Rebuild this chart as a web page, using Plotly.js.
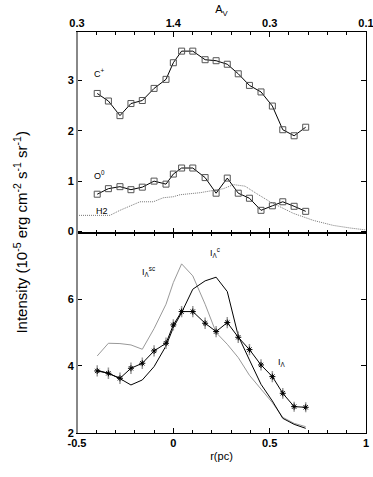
<!DOCTYPE html>
<html>
<head>
<meta charset="utf-8">
<script src="https://cdn.plot.ly/plotly-3.0.1.min.js"></script>
<style>
  html, body { margin: 0; padding: 0; background: #fff; }
  #chart { width: 373px; height: 477px; }
</style>
</head>
<body>
<div id="chart"></div>
<script>
// positions along the cut, r(pc)
const rpc = [-0.395, -0.337, -0.277, -0.220, -0.161, -0.100, -0.038, 0.000, 0.043, 0.101,
             0.165, 0.222, 0.280, 0.337, 0.395, 0.455, 0.514, 0.568, 0.627, 0.687];

// top panel
const cPlus = [2.74, 2.59, 2.30, 2.54, 2.60, 2.84, 3.02, 3.35, 3.58, 3.58,
               3.41, 3.39, 3.32, 3.13, 2.90, 2.77, 2.49, 2.02, 1.90, 2.07];
const oZero = [0.74, 0.85, 0.89, 0.83, 0.88, 1.00, 0.94, 1.14, 1.26, 1.26,
               1.07, 0.76, 1.06, 0.76, 0.66, 0.42, 0.51, 0.59, 0.50, 0.40];
const h2R = [-0.5, -0.389, -0.329, -0.277, -0.173, -0.104, -0.052, 0.0, 0.035, 0.139, 0.208,
             0.260, 0.312, 0.372, 0.433, 0.502, 0.554, 0.623, 0.727, 0.831, 0.917, 0.969, 1.0];
const h2 = [0.32, 0.32, 0.32, 0.42, 0.59, 0.59, 0.67, 0.69, 0.73, 0.77, 0.82,
            0.85, 0.93, 0.90, 0.75, 0.59, 0.49, 0.36, 0.22, 0.12, 0.07, 0.04, 0.03];

// bottom panel
const iObs = [3.85, 3.78, 3.63, 3.93, 4.08, 4.45, 4.68, 5.23, 5.63, 5.63,
              5.28, 5.03, 5.30, 4.86, 4.49, 4.03, 3.68, 3.18, 2.78, 2.76];
const iErr = [0.17, 0.17, 0.17, 0.17, 0.17, 0.17, 0.17, 0.17, 0.17, 0.17,
              0.17, 0.17, 0.17, 0.17, 0.17, 0.17, 0.17, 0.16, 0.15, 0.15];
const iC = [3.87, 3.78, 3.62, 3.43, 3.58, 3.98, 4.60, 5.15, 5.60, 6.30,
            6.55, 6.66, 6.23, 4.90, 4.18, 3.45, 2.95, 2.43, 2.25, 2.13];
const iSc = [4.30, 4.68, 4.67, 4.63, 4.50, 5.12, 5.85, 6.50, 7.06, 6.70,
             5.85, 5.00, 4.65, 4.25, 3.72, 3.30, 2.90, 2.46, 2.28, 2.18];

const avTicks = [-0.5, 0, 0.5, 1];
const avText = ["0.3", "1.4", "0.3", "0.1"];

const tickFont = { family: "Liberation Sans, Arial, sans-serif", size: 11, color: "#000", weight: "bold" };
const noteFont = { family: "Liberation Sans, Arial, sans-serif", size: 9, color: "#000" };

let data = [
  {
    x: h2R, y: h2, xaxis: "x2", yaxis: "y2", mode: "lines",
    line: { color: "#777", width: 1, dash: "1px,1px" }
  },
  {
    x: rpc, y: cPlus, xaxis: "x2", yaxis: "y2", mode: "lines+markers",
    line: { color: "#000", width: 1 },
    marker: { symbol: "square-open", size: 6, color: "#555", line: { width: 1 } }
  },
  {
    x: rpc, y: oZero, xaxis: "x2", yaxis: "y2", mode: "lines+markers",
    line: { color: "#000", width: 1 },
    marker: { symbol: "square-open", size: 6, color: "#555", line: { width: 1 } }
  },
  {
    x: rpc, y: iSc, xaxis: "x", yaxis: "y", mode: "lines",
    line: { color: "#999", width: 1 }
  },
  {
    x: rpc, y: iC, xaxis: "x", yaxis: "y", mode: "lines",
    line: { color: "#000", width: 1 }
  },
  {
    x: rpc, y: iObs, xaxis: "x", yaxis: "y", mode: "lines+markers",
    line: { color: "#000", width: 1 },
    marker: { symbol: "asterisk-open", size: 5, color: "#000", line: { width: 1 } },
    error_y: { type: "data", array: iErr, color: "#999", thickness: 1.5, width: 0 }
  }
];

const frame = {
  showline: true, linecolor: "#000", linewidth: 1, mirror: "ticks",
  ticks: "inside", ticklen: 5, tickcolor: "#000", showgrid: false, zeroline: false,
  tickfont: tickFont, ticklabeloverflow: "allow"
};

let layout = {
  width: 373, height: 477,
  margin: { l: 77, r: 7, t: 32, b: 44 },
  paper_bgcolor: "#fff", plot_bgcolor: "#fff",
  showlegend: false,
  xaxis: Object.assign({}, frame, {
    anchor: "y", range: [-0.5, 1], tickvals: [-0.5, 0, 0.5, 1], ticktext: ["-0.5", "0", "0.5", "1"],
    minor: { dtick: 0.1, ticks: "inside", ticklen: 3, tickcolor: "#000" },
    title: { text: "r(pc)", font: { family: "Liberation Sans, Arial, sans-serif", size: 11, color: "#000" }, standoff: 4 }
  }),
  xaxis2: Object.assign({}, frame, {
    anchor: "y2", side: "top", range: [-0.5, 1], matches: "x",
    tickvals: avTicks, ticktext: avText,
    minor: { dtick: 0.1, ticks: "inside", ticklen: 3, tickcolor: "#000" },
    title: { text: "A<sub>V</sub>", font: { family: "Liberation Sans, Arial, sans-serif", size: 11, color: "#000" }, standoff: 0 }
  }),
  yaxis: Object.assign({}, frame, {
    domain: [0, 0.5], range: [1.99, 8.0], tickvals: [2, 4, 6], ticktext: ["2", "4", "6"]
  }),
  yaxis2: Object.assign({}, frame, {
    domain: [0.5, 1], range: [-0.02, 3.96], tickvals: [0, 1, 2, 3], ticktext: ["0", "1", "2", "3"]
  }),
  shapes: [
    { type: "line", xref: "paper", yref: "paper", x0: 0, x1: 0, y0: 0, y1: 1,
      line: { color: "#888", width: 2 } }
  ],
  annotations: [
    { x: -0.381, y: 3.15, xref: "x2", yref: "y2", text: "C<sup>+</sup>", showarrow: false, font: noteFont },
    { x: -0.381, y: 1.12, xref: "x2", yref: "y2", text: "O<sup>0</sup>", showarrow: false, font: noteFont },
    { x: -0.372, y: 0.40, xref: "x2", yref: "y2", text: "H2", showarrow: false, font: noteFont },
    { x: -0.131, y: 6.82, xref: "x", yref: "y", text: "I<sub>Λ</sub><sup>sc</sup>", showarrow: false, font: noteFont },
    { x: 0.217, y: 7.39, xref: "x", yref: "y", text: "I<sub>Λ</sub><sup>c</sup>", showarrow: false, font: noteFont },
    { x: 0.564, y: 4.09, xref: "x", yref: "y", text: "I<sub>Λ</sub>", showarrow: false, font: noteFont },
    { x: -0.197, y: 0.5, xref: "paper", yref: "paper", xanchor: "center", yanchor: "middle",
      textangle: -90, showarrow: false,
      text: "Intensity (10<sup>-5</sup> erg cm<sup>-2</sup> s<sup>-1</sup> sr<sup>-1</sup>)",
      font: { family: "Liberation Sans, Arial, sans-serif", size: 15, color: "#000" } }
  ]
};

Plotly.newPlot("chart", data, layout, { displayModeBar: false, staticPlot: true });
</script>
</body>
</html>
